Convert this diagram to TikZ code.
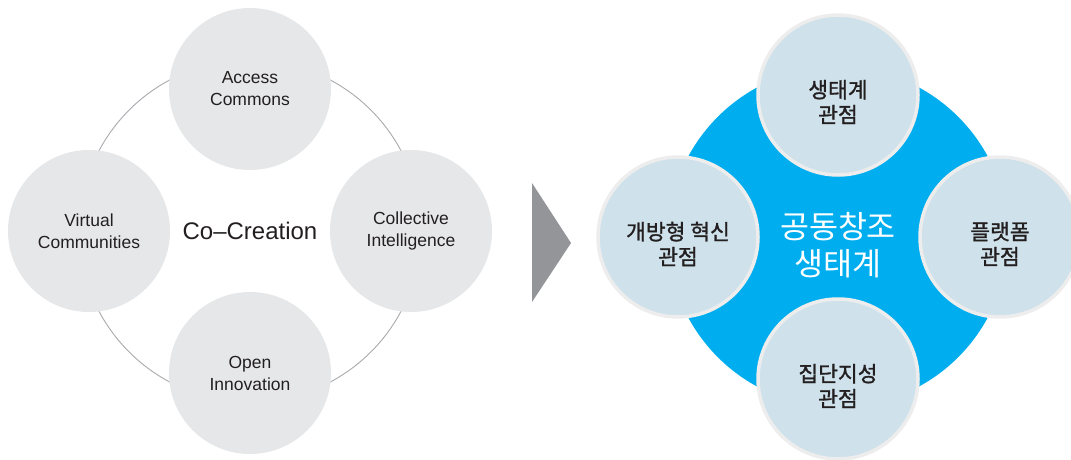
\documentclass[tikz,border=0pt]{standalone}
\usepackage{fontspec}
\setmainfont{Liberation Sans}
\newfontfamily\krfont{Noto Sans CJK KR}
\newfontfamily\krmedium[FakeBold=1.3]{Noto Sans CJK KR}
\definecolor{ringgray}{HTML}{A7A9AC}
\definecolor{softgray}{HTML}{E6E7E8}
\definecolor{textdark}{HTML}{231F20}
\definecolor{ecoblue}{HTML}{00AEEF}
\definecolor{paleblue}{HTML}{CFE2EB}
\definecolor{arrowgray}{HTML}{939598}
\tikzset{
  cobubble/.style={circle,fill=softgray,minimum size=162pt,inner sep=0pt,
    align=center,text=textdark,font=\fontsize{17.5}{22}\selectfont},
  ecobubble/.style={circle,fill=paleblue,draw=white!93!black,line width=3.5pt,
    minimum size=160pt,inner sep=0pt,align=center,text=textdark,
    font=\krmedium\fontsize{21.5}{25}\selectfont},
}
\begin{document}
\begin{tikzpicture}[x=1pt,y=-1pt]
\useasboundingbox (0,0) rectangle (1071,460);
% left: co-creation ring
\node[circle,draw=ringgray,line width=0.9pt,minimum size=342pt,inner sep=0pt] (ring) at (250,231) {};
\node[font=\fontsize{24}{28}\selectfont,text=textdark] (cocreation) at (ring.center) {Co–Creation};
\node[cobubble] (access) at (250,89) {Access\\Commons};
\node[cobubble] (virtual) at (89,231) {Virtual\\Communities};
\node[cobubble] (collective) at (411,231) {Collective\\Intelligence};
\node[cobubble] (open) at (250,373) {Open\\Innovation};
% arrow
\coordinate (tipa) at (532,183);
\coordinate (tipb) at (571,243);
\coordinate (tipc) at (532,302);
\fill[arrowgray] (tipa) -- (tipb) -- (tipc) -- cycle;
% right: ecosystem
\node[circle,fill=ecoblue,minimum size=340pt,inner sep=0pt] (eco) at (838,237) {};
\node[text=white,align=center,font=\krfont\fontsize{31.5}{37}\selectfont] (ecotitle) at ([yshift=-8pt]eco.center) {공동창조\\생태계};
\node[ecobubble] (ecosys) at (838,95) {};
\node[ecobubble] (openinno) at (678,237) {};
\node[ecobubble] (platform) at (1000,237) {};
\node[ecobubble] (collint) at (838,379) {};
% labels, set a little low in their bubbles
\foreach \bub/\txt in {ecosys/생태계, openinno/개방형 혁신, platform/플랫폼, collint/집단지성}
  \node[align=center,text=textdark,font=\krmedium\fontsize{21.5}{25}\selectfont]
    (\bub-label) at ([yshift=-7pt]\bub.center) {\txt\\관점};
\end{tikzpicture}
\end{document}
